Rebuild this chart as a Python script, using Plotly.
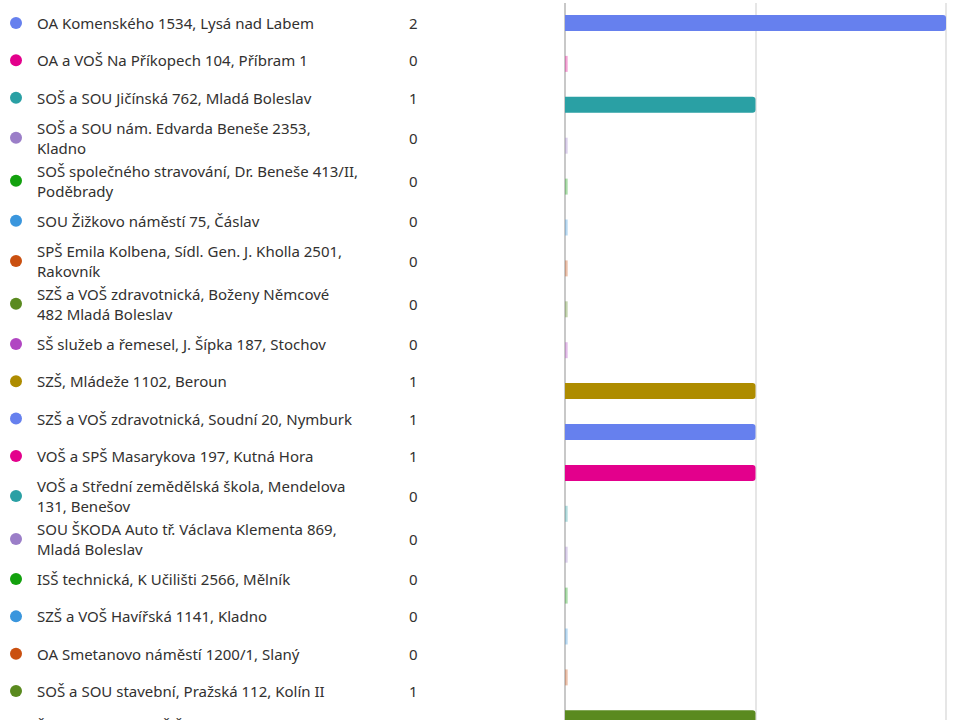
import plotly.graph_objects as go

labels = [
    "OA Komenského 1534, Lysá nad Labem",
    "OA a VOŠ Na Příkopech 104, Příbram 1",
    "SOŠ a SOU Jičínská 762, Mladá Boleslav",
    "SOŠ a SOU nám. Edvarda Beneše 2353,<br>Kladno",
    "SOŠ společného stravování, Dr. Beneše 413/II,<br>Poděbrady",
    "SOU Žižkovo náměstí 75, Čáslav",
    "SPŠ Emila Kolbena, Sídl. Gen. J. Kholla 2501,<br>Rakovník",
    "SZŠ a VOŠ zdravotnická, Boženy Němcové<br>482 Mladá Boleslav",
    "SŠ služeb a řemesel, J. Šípka 187, Stochov",
    "SZŠ, Mládeže 1102, Beroun",
    "SZŠ a VOŠ zdravotnická, Soudní 20, Nymburk",
    "VOŠ a SPŠ Masarykova 197, Kutná Hora",
    "VOŠ a Střední zemědělská škola, Mendelova<br>131, Benešov",
    "SOU ŠKODA Auto tř. Václava Klementa 869,<br>Mladá Boleslav",
    "ISŠ technická, K Učilišti 2566, Mělník",
    "SZŠ a VOŠ Havířská 1141, Kladno",
    "OA Smetanovo náměstí 1200/1, Slaný",
    "SOŠ a SOU stavební, Pražská 112, Kolín II",
    "Školní statek a SOŠ Žižkova, Havlíčkova<br>1157, Čelákovice",
]
values = [2, 0, 1, 0, 0, 0, 0, 0, 0, 1, 1, 1, 0, 0, 0, 0, 0, 1, 0]
palette = ["#6680EE", "#E3008C", "#2AA0A4", "#9B7EC8", "#13A10E",
           "#3A96DD", "#CA5010", "#5A8A1F", "#B146C2", "#AE8C00"]
colors = [palette[i % len(palette)] for i in range(len(labels))]

W, H = 953, 720
TOP = 3
# list layout (px): row heights for one- and two-line labels
H1, H2 = 37.33, 42.9
heights = [H2 if "<br>" in t else H1 for t in labels]
heights[-1] = 53.0  # last row sits a little lower in the reference
centers = []
c = 23.0
for i, h in enumerate(heights):
    if i > 0:
        c += (heights[i - 1] + h) / 2
    centers.append(c)

idx = list(range(len(labels)))
fig = go.Figure()

# bars
fig.add_trace(go.Bar(
    y=idx, x=values, orientation="h",
    marker=dict(color=colors, cornerradius=3, line=dict(width=0)),
    width=0.39, hoverinfo="skip", xaxis="x", yaxis="y",
))
# zero stubs
fig.add_trace(go.Bar(
    y=idx, x=[0.014 if v == 0 else None for v in values], orientation="h",
    marker=dict(color=colors, line=dict(width=0)), opacity=0.35,
    width=0.39, hoverinfo="skip", xaxis="x", yaxis="y",
))
# legend dots
fig.add_trace(go.Scatter(
    x=[16] * len(labels), y=centers, mode="markers",
    marker=dict(size=12, color=colors, line=dict(width=0)),
    hoverinfo="skip", xaxis="x2", yaxis="y2", cliponaxis=False,
))

ann = []
for t, v, cy in zip(labels, values, centers):
    ya = min(cy, H - 1)
    shift = -(cy - ya)
    ann.append(dict(x=35, y=ya, yshift=shift, xref="x2", yref="y2", text=t,
                    showarrow=False, xanchor="left", yanchor="middle", align="left",
                    font=dict(size=15, color="#323130", family="Noto Sans")))
    ann.append(dict(x=413, y=ya, yshift=shift, xref="x2", yref="y2", text=str(v),
                    showarrow=False, xanchor="center", yanchor="middle",
                    font=dict(size=15, color="#323130", family="Noto Sans")))

plot_h = H - TOP
px_per_row = 40.9
top_units = (23 - TOP) / px_per_row
bottom_units = plot_h / px_per_row - top_units
x0 = 565 / W
fig.update_layout(
    width=W, height=H,
    margin=dict(l=0, r=0, t=TOP, b=0, pad=0),
    paper_bgcolor="white", plot_bgcolor="rgba(0,0,0,0)",
    showlegend=False, barmode="overlay",
    font=dict(family="Noto Sans", color="#323130"),
    xaxis=dict(domain=[x0, 1], range=[0, 2 * (W - 565) / (946 - 565)],
               showgrid=True, gridcolor="#E6E6E6", gridwidth=1.5, dtick=1,
               zeroline=True, zerolinecolor="#C8C8C8", zerolinewidth=1.5,
               showticklabels=False, ticks="", fixedrange=True, anchor="y"),
    yaxis=dict(domain=[0, 1], range=[bottom_units, -top_units], anchor="x",
               showgrid=False, zeroline=False, showticklabels=False, ticks=""),
    xaxis2=dict(domain=[0, 1], range=[0, W], visible=False, anchor="y2"),
    yaxis2=dict(domain=[0, 1], range=[H, TOP], visible=False, anchor="x2"),
    annotations=ann,
)

fig.write_html("out.html", config={"displayModeBar": False},
               post_script="document.body.style.margin='0';")
